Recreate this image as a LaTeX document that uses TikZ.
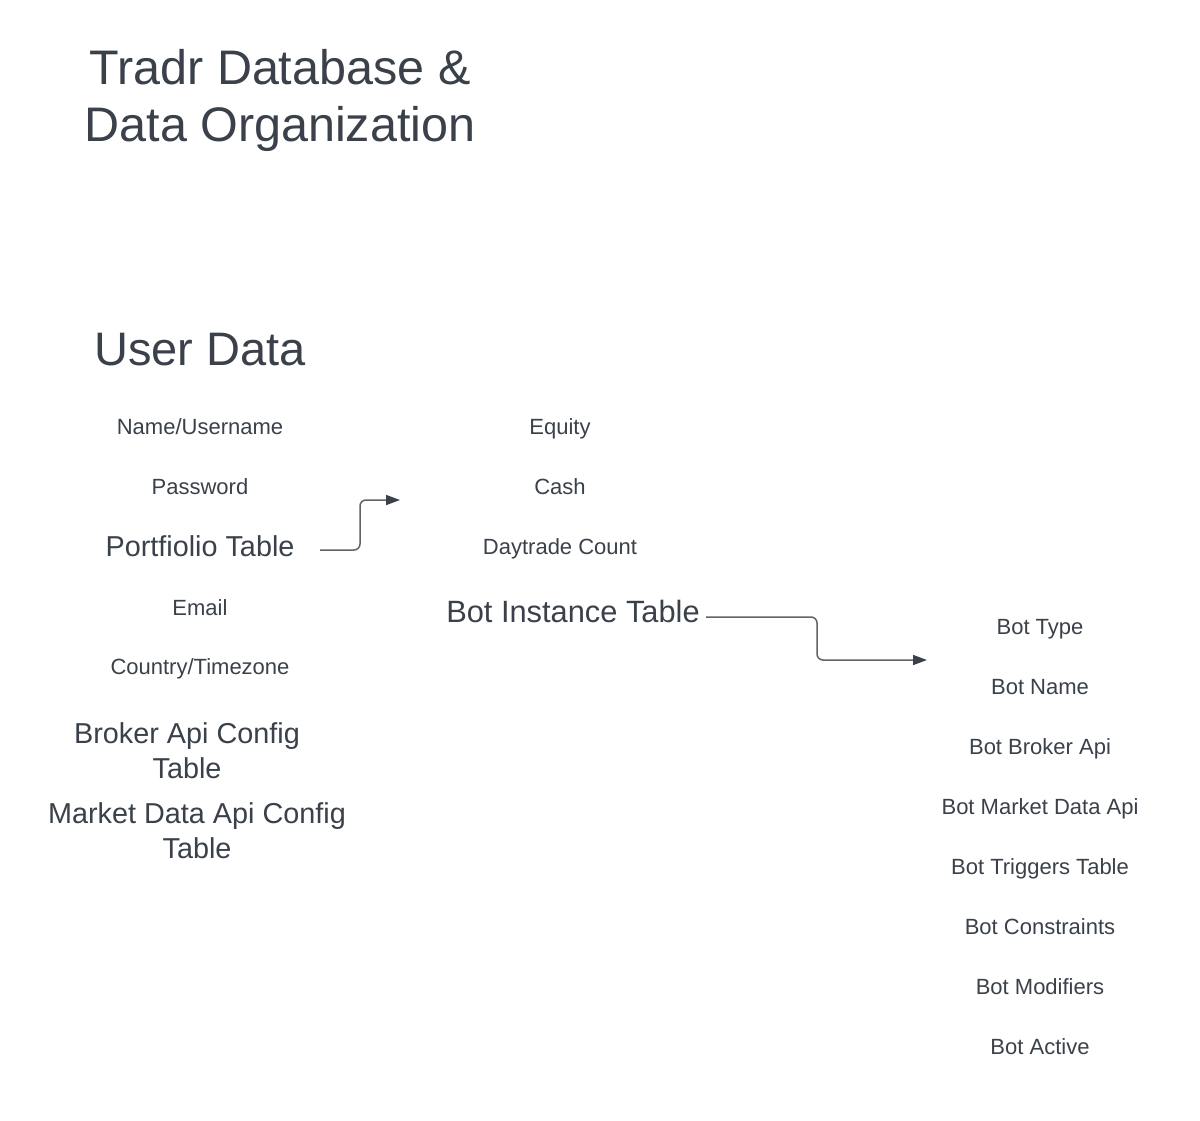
\documentclass[tikz,border=0pt]{standalone}
\usepackage{fontspec}
\setmainfont{Liberation Sans}
\usetikzlibrary{arrows.meta}
\definecolor{ink}{HTML}{3A414A}
\definecolor{wire}{HTML}{5F646B}
\begin{document}
\begin{tikzpicture}[x=1pt,y=-1pt,
  every node/.style={text=ink,inner sep=0pt,anchor=center},
  title/.style={font=\fontsize{48.5}{57}\selectfont,align=center},
  head/.style={font=\fontsize{47}{55}\selectfont},
  big/.style={font=\fontsize{28.8}{35}\selectfont,align=center},
  bigger/.style={font=\fontsize{30.8}{36}\selectfont,text height=22pt,text depth=6pt,yshift=-3pt},
  small/.style={font=\fontsize{22}{26}\selectfont,text height=16pt,text depth=5pt,yshift=-2pt},
  link/.style={draw=wire,line width=1.5pt,rounded corners=6pt,
    -{Triangle[length=14pt,width=10pt,color=ink]}}]
\fill[white] (0,0) rectangle (1200,1120);
\useasboundingbox (0,0) rectangle (1200,1120);
\node[title] (t) at (280,100) {Tradr Database \&\\Data Organization};
\node[head] (ud) at (200,350) {User Data};
\node[small] (nm) at (200,427) {Name/Username};
\node[small] (pw) at (200,487) {Password};
\node[big] (pf) at (200,546) {Portfiolio Table};
\node[small] (em) at (200,608) {Email};
\node[small] (ct) at (200,667) {Country/Timezone};
\node[big] (br) at (187,751) {Broker Api Config\\Table};
\node[big] (md) at (197,831) {Market Data Api Config\\Table};
\node[small] (eq) at (560,427) {Equity};
\node[small] (cs) at (560,487) {Cash};
\node[small] (dc) at (560,547) {Daytrade Count};
\node[bigger] (bi) at (573,611) {Bot Instance Table};
\node[small] (b1) at (1040,627) {Bot Type};
\node[small] (b2) at (1040,687) {Bot Name};
\node[small] (b3) at (1040,747) {Bot Broker Api};
\node[small] (b4) at (1040,807) {Bot Market Data Api};
\node[small] (b5) at (1040,867) {Bot Triggers Table};
\node[small] (b6) at (1040,927) {Bot Constraints};
\node[small] (b7) at (1040,987) {Bot Modifiers};
\node[small] (b8) at (1040,1047) {Bot Active};
\coordinate (p1) at (320,550);
\coordinate (q1) at (400,500);
\coordinate (p2) at (706,617);
\coordinate (q2) at (927,660);
\draw[link] (p1) -- (360,550) -- (360,500) -- (q1);
\draw[link] (p2) -- (817,617) -- (817,660) -- (q2);
\end{tikzpicture}
\end{document}
